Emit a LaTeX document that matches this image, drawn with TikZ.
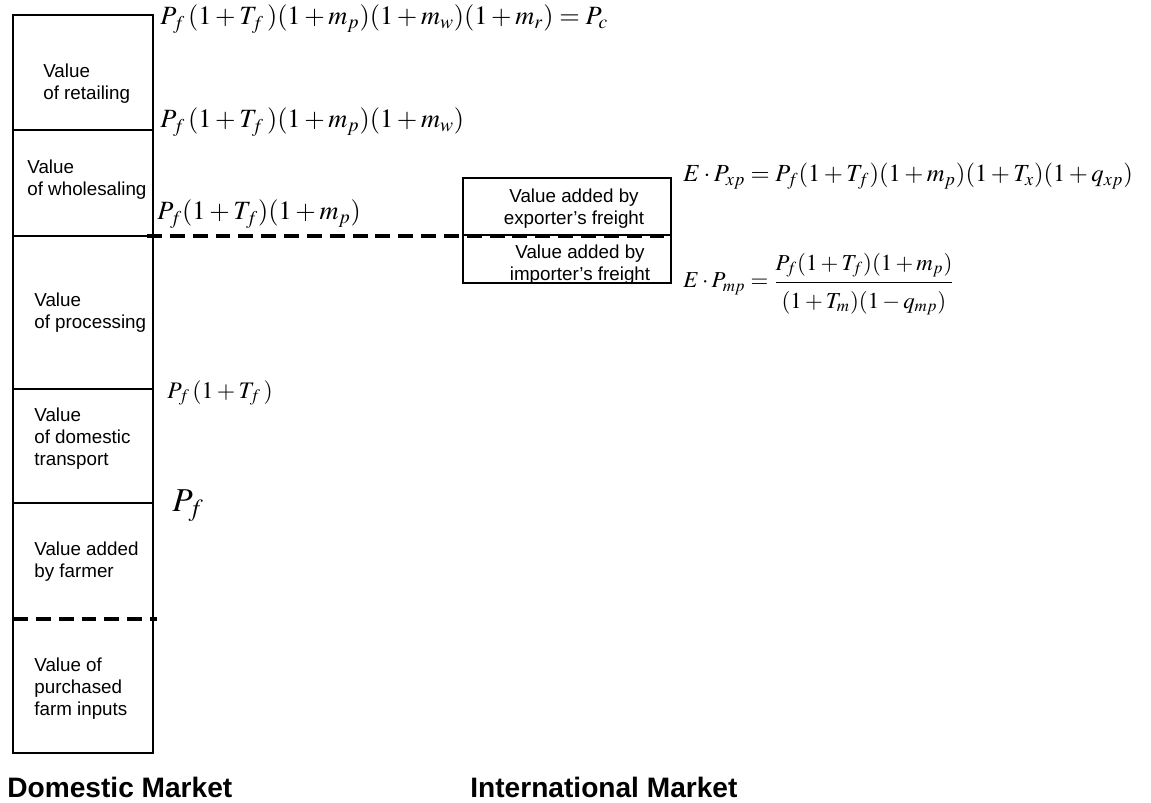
\documentclass[tikz,border=0pt]{standalone}
\usepackage{amsmath}
\usepackage{mathptmx}
\usepackage[no-math]{fontspec}
\setsansfont{Liberation Sans}
\usepackage{tikz}

\tikzset{
  boxline/.style={line width=0.6pt},
  cutline/.style={line width=2pt, dash pattern=on 8.5pt off 4.5pt},
  lbl/.style={anchor=west, align=left, inner sep=0pt, font=\sffamily\fontsize{10.7}{12.5}\selectfont},
  frm/.style={anchor=base west, inner sep=0pt, font=\fontsize{15}{18}\selectfont},
  mkt/.style={anchor=west, inner sep=0pt, font=\sffamily\bfseries\fontsize{16}{19}\selectfont}
}

\begin{document}
\begin{tikzpicture}[x=0.02cm, y=-0.02cm]
	\useasboundingbox (0,0) rectangle (1151,803);
	% domestic column
	\draw[boxline] (13,15) rectangle (153,753);
	\draw[boxline] (13,130) -- (153,130);
	\draw[boxline] (13,236) -- (153,236);
	\draw[boxline] (13,389) -- (153,389);
	\draw[boxline] (13,503) -- (153,503);
	\draw[cutline] (13,619) -- (157,619);
	% international box
	\draw[boxline] (463,178) rectangle (671,283);
	\draw[boxline] (463,235) -- (671,235);
	\draw[cutline] (147,236) -- (670,236);

	\node[lbl] (retail) at (43,84) {Value\\of retailing};
	\node[lbl] (whole) at (27,179.5) {Value\\of wholesaling};
	\node[lbl] (proc) at (34,313) {Value\\of processing};
	\node[lbl] (trans) at (34,439) {Value\\of domestic\\transport};
	\node[lbl] (farmer) at (34,561.5) {Value added\\by farmer};
	\node[lbl] (inputs) at (34,689) {Value of\\purchased\\farm inputs};
	\node[lbl, anchor=center, align=center] (expfr) at (574,208.5) {Value added by\\exporter’s freight};
	\node[lbl, anchor=center, align=center] (impfr) at (580,265) {Value added by\\importer’s freight};

	\node[frm] (pc) at (160,25) {$P_f\,(1+T_f\,)(1+m_p)(1+m_w)(1+m_r)=P_c$};
	\node[frm] (pw) at (160,128) {$P_f\,(1+T_f\,)(1+m_p)(1+m_w)$};
	\node[frm] (pp) at (157,220) {$P_f(1+T_f)(1+m_p)$};
	\node[frm, font=\fontsize{13.5}{16}\selectfont] (pt) at (167,398) {$P_f\,(1+T_f\,)$};
	\node[frm, font=\fontsize{19}{22}\selectfont] (pf) at (172,511) {$P_f$};
	\node[frm, font=\fontsize{14}{17}\selectfont] (pxp) at (683,182) {$E\cdot P_{xp}=P_f(1+T_f)(1+m_p)(1+T_x)(1+q_{xp})$};
	\node[frm, font=\fontsize{13}{15.5}\selectfont] (pmp) at (683,288) {$E\cdot P_{mp}=\dfrac{P_f(1+T_f)(1+m_p)\rule[-5pt]{0pt}{5pt}}{\rule{0pt}{13pt}(1+T_m)(1-q_{mp})}$};

	\node[mkt] (dom) at (7,787) {Domestic Market};
	\node[mkt] (intl) at (470,787) {International Market};
\end{tikzpicture}
\end{document}
